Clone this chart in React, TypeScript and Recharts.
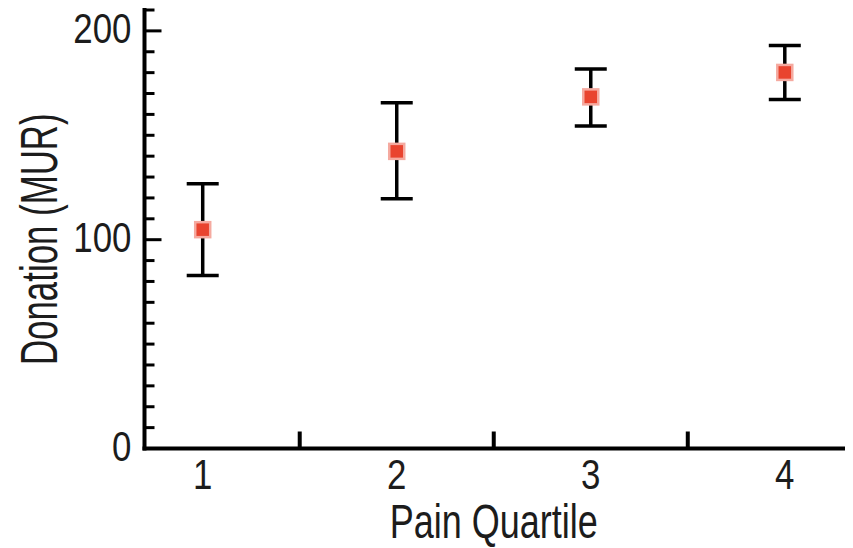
import React from 'react'
import { ScatterChart, Scatter, XAxis, YAxis, ErrorBar, Label } from 'recharts'

const quartiles = [1, 2, 3, 4]
const donationMean = [104.8, 142.3, 168.4, 180.1]
const donationLow = [82.8, 119.6, 154.5, 167.1]
const donationHigh = [126.8, 165.6, 181.8, 193]

const xLabelTicks = [1, 2, 3, 4]
const xDividerTicks = [1.5, 2.5, 3.5]
const yTicks = [0, 10, 20, 30, 40, 50, 60, 70, 80, 90, 100, 110, 120, 130, 140, 150, 160, 170, 180, 190, 200, 210]
const yLabelTicks = [0, 100, 200]

// no narrow font installed, so the condensed look comes from a horizontal squeeze
const FONT = '"Liberation Sans", Arial, sans-serif'
const INK = '#1c1c1c'

const data = quartiles.map((q, i) => ({
  quartile: q,
  donation: donationMean[i],
  err: [donationMean[i] - donationLow[i], donationHigh[i] - donationMean[i]],
}))

function YTick({ x, y, payload }: any) {
  const major = yLabelTicks.includes(payload.value)
  return (
    <g>
      <line x1={x} x2={x + (major ? 17 : 10)} y1={y} y2={y} stroke="#000" strokeWidth={3} />
      {major && (
        <text
          transform={`translate(${x - 13} ${y + 12}) scale(0.83 1)`}
          textAnchor="end"
          fontSize={42}
          fontFamily={FONT}
          fill={INK}
        >
          {payload.value}
        </text>
      )}
    </g>
  )
}

function XTick({ x, y, payload }: any) {
  if (xDividerTicks.includes(payload.value)) {
    return <line x1={x} x2={x} y1={y} y2={y - 17} stroke="#000" strokeWidth={4} />
  }
  return (
    <text
      transform={`translate(${x} ${y + 40}) scale(0.83 1)`}
      textAnchor="middle"
      fontSize={42}
      fontFamily={FONT}
      fill={INK}
    >
      {payload.value}
    </text>
  )
}

function YTitle({ viewBox }: any) {
  const cx = viewBox.x + 57
  const cy = viewBox.y + viewBox.height / 2 + 10
  return (
    <text
      transform={`translate(${cx} ${cy}) rotate(-90) scale(0.67 1)`}
      textAnchor="middle"
      fontSize={52}
      fontFamily={FONT}
      fill={INK}
    >
      Donation (MUR)
    </text>
  )
}

function XTitle({ viewBox }: any) {
  const cx = viewBox.x + viewBox.width / 2
  return (
    <text
      transform={`translate(${cx} ${viewBox.y + 89}) scale(0.75 1)`}
      textAnchor="middle"
      fontSize={48}
      fontFamily={FONT}
      fill={INK}
    >
      Pain Quartile
    </text>
  )
}

function Marker({ cx, cy }: any) {
  return (
    <rect
      x={cx - 7.5}
      y={cy - 7.5}
      width={15}
      height={15}
      fill="#e9442f"
      stroke="#f5aaa0"
      strokeWidth={2.5}
    />
  )
}

export default function App() {
  return (
    <div style={{ position: 'absolute', left: 0, top: 0, background: '#fff' }}>
      <ScatterChart width={853} height={548} margin={{ top: 10, right: 10, bottom: 39.5, left: 0 }}>
        <XAxis
          type="number"
          dataKey="quartile"
          domain={[0.7, 4.3]}
          ticks={[...xLabelTicks, ...xDividerTicks].sort((a, b) => a - b)}
          interval={0}
          allowDecimals
          height={60}
          tickSize={0}
          tickMargin={0}
          tickLine={false}
          tick={<XTick />}
          axisLine={{ stroke: '#000', strokeWidth: 4, strokeLinecap: 'square' }}
        >
          <Label content={<XTitle />} />
        </XAxis>
        <YAxis
          type="number"
          dataKey="donation"
          domain={[0, 210]}
          ticks={yTicks}
          interval={0}
          width={144.5}
          tickSize={0}
          tickMargin={0}
          tickLine={false}
          tick={<YTick />}
          axisLine={{ stroke: '#000', strokeWidth: 4, strokeLinecap: 'square' }}
        >
          <Label content={<YTitle />} />
        </YAxis>
        <Scatter data={data} shape={<Marker />} isAnimationActive={false}>
          <ErrorBar
            dataKey="err"
            direction="y"
            width={16}
            strokeWidth={3.5}
            stroke="#000"
            isAnimationActive={false}
          />
        </Scatter>
      </ScatterChart>
    </div>
  )
}
